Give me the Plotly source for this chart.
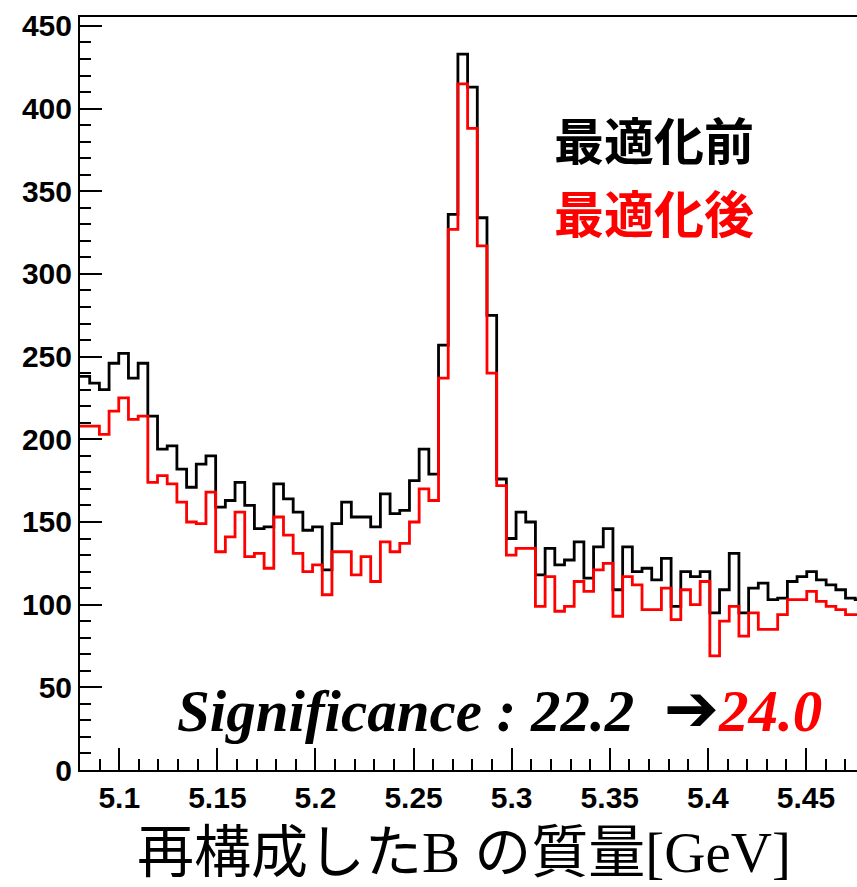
import numpy as np
import plotly.graph_objects as go

# Histogram binning of the reconstructed B mass [GeV]
mass_lo = 5.08
mass_hi = 5.48
n_bins = 81

# Entries per bin before optimisation
counts_before = [
    238, 234, 230, 246, 252, 237, 246, 214, 194, 196,
    182, 171, 185, 190, 159, 163, 174, 160, 146, 147,
    173, 164, 156, 145, 147, 121, 149, 162, 153, 153,
    147, 167, 155, 157, 175, 194, 179, 257, 336, 433,
    413, 334, 275, 176, 140, 156, 150, 118, 134, 124,
    127, 138, 116, 135, 146, 109, 135, 120, 122, 115,
    128, 99, 120, 117, 120, 95, 109, 131, 95, 110,
    113, 103, 104, 114, 117, 120, 115, 112, 109, 104,
    103,
]

# Entries per bin after optimisation
counts_after = [
    208, 208, 203, 217, 225, 212, 214, 174, 178, 173,
    162, 150, 149, 168, 132, 141, 156, 129, 131, 122,
    153, 142, 131, 120, 124, 106, 132, 132, 118, 129,
    114, 138, 132, 137, 150, 170, 163, 237, 327, 415,
    388, 317, 240, 172, 130, 134, 134, 99, 117, 96,
    99, 114, 108, 121, 125, 93, 117, 112, 97, 97,
    110, 91, 109, 100, 114, 69, 90, 99, 81, 95,
    85, 85, 94, 103, 103, 108, 102, 99, 97, 94,
    94,
]

label_before = "最適化前"
label_after = "最適化後"
signif_before = "22.2"
signif_after = "24.0"
x_title = "再構成したB の質量[GeV]"

edges = np.linspace(mass_lo, mass_hi, n_bins + 1)


def step_xy(counts):
    ys = list(counts) + [counts[-1]]
    return edges, ys


fig = go.Figure()
for counts, color in ((counts_before, "black"), (counts_after, "red")):
    xs, ys = step_xy(counts)
    fig.add_trace(go.Scatter(
        x=xs, y=ys, mode="lines", line_shape="hv",
        line=dict(color=color, width=2.8), showlegend=False,
        hoverinfo="skip",
    ))

fig_w, fig_h = 857, 887
m_l, m_r, m_t, m_b = 79.7, 0, 16.7, 117
plot_w = fig_w - m_l - m_r
px_per_unit = 1963.0
x_right = mass_lo + plot_w / px_per_unit

fig.update_layout(
    width=fig_w, height=fig_h,
    margin=dict(l=m_l, r=m_r, t=m_t, b=m_b, pad=0),
    paper_bgcolor="white", plot_bgcolor="white",
    xaxis=dict(
        range=[mass_lo, x_right], showgrid=False, zeroline=False,
        showline=True, linecolor="black", linewidth=2, mirror=True,
        ticks="inside", ticklen=22, tickwidth=1.5, tickcolor="black",
        dtick=0.05, tick0=0, tickformat="~g",
        minor=dict(dtick=0.01, ticks="inside", ticklen=11, tickwidth=1.5,
                   tickcolor="black", showgrid=False),
        tickfont=dict(family="Liberation Sans", size=30, color="black",
                      weight="bold"),
        ticklabelstandoff=0,
    ),
    yaxis=dict(
        range=[0, 455.4], showgrid=False, zeroline=False,
        showline=True, linecolor="black", linewidth=2, mirror=False,
        ticks="inside", ticklen=22, tickwidth=1.5, tickcolor="black",
        dtick=50, tick0=0,
        minor=dict(dtick=10, ticks="inside", ticklen=11, tickwidth=1.5,
                   tickcolor="black", showgrid=False),
        tickfont=dict(family="Liberation Sans", size=30, color="black",
                      weight="bold"),
        ticklabelstandoff=0,
    ),
)

# Labels for the two selections
fig.add_annotation(
    x=0.607, y=0.839, xref="paper", yref="paper",
    xanchor="left", yanchor="middle", showarrow=False,
    text=f"<b>{label_before}</b>",
    font=dict(family="Noto Sans CJK JP", size=50, color="black"),
)
fig.add_annotation(
    x=0.607, y=0.743, xref="paper", yref="paper",
    xanchor="left", yanchor="middle", showarrow=False,
    text=f"<b>{label_after}</b>",
    font=dict(family="Noto Sans CJK JP", size=50, color="red"),
)

# Significance before -> after
fig.add_annotation(
    x=0.1226, y=0.0823, xref="paper", yref="paper",
    xanchor="left", yanchor="middle", showarrow=False,
    text=(f"<b><i>Significance : {signif_before}  </i></b>"
          f"<span style='font-family:DejaVu Sans;font-size:66px'><b>➔</b></span>"
          f"<span style='color:red'><b><i>{signif_after}</i></b></span>"),
    font=dict(family="Liberation Serif", size=59, color="black"),
)

# Axis title
fig.add_annotation(
    x=0.9177, y=-0.109, xref="paper", yref="paper",
    xanchor="right", yanchor="middle", showarrow=False,
    text=x_title,
    font=dict(family="Liberation Serif, Noto Sans CJK JP", size=57,
              color="black"),
)

fig.write_html("out.html")
